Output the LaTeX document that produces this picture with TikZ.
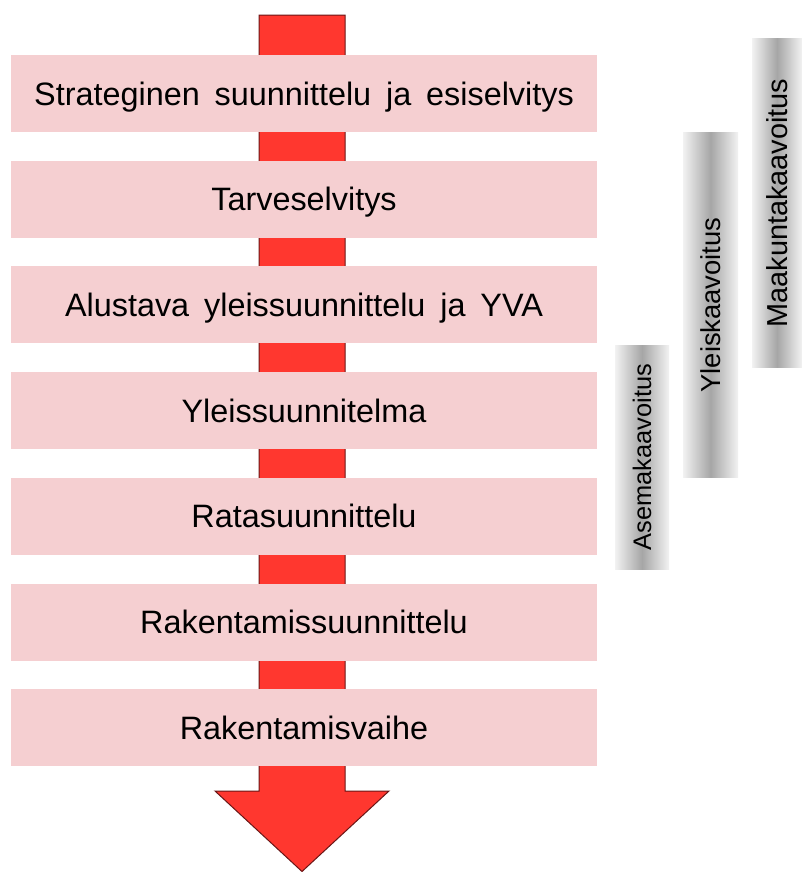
\documentclass[tikz,border=0pt]{standalone}
\usepackage{fontspec}
\setmainfont{Liberation Sans}

\definecolor{phasepink}{RGB}{245,207,209}
\definecolor{arrowred}{RGB}{255,55,47}
\definecolor{arrowedge}{RGB}{105,22,22}
\newcommand{\wgap}{\hspace{0.46em}}

\begin{document}
\begin{tikzpicture}[x=1bp,y=-1bp,
    phase/.style={fill=phasepink,inner sep=0pt,minimum width=586bp,minimum height=77bp,
      text height=23.3bp,text depth=0bp,font=\fontsize{32.5}{38}\selectfont},
    plan/.style={rotate=90,inner sep=0pt,left color=black!5,right color=black!5,
      middle color=black!35}]
    \useasboundingbox (0,0) rectangle (802,872);
    % process arrow
    \draw[fill=arrowred,draw=arrowedge,line width=1bp,line join=miter]
      (259,15) -- (345,15) -- (345,791) -- (389,791) -- (302,871.5)
      -- (215,791) -- (259,791) -- cycle;
    % phases
    \node[phase] (strat) at (304,93.5) {Strateginen\wgap suunnittelu\wgap ja\wgap esiselvitys};
    \node[phase] (tarve) at (304,199.2) {Tarveselvitys};
    \node[phase] (alust) at (304,304.9) {Alustava\wgap yleissuunnittelu\wgap ja\wgap YVA};
    \node[phase] (yleis) at (304,410.6) {Yleissuunnitelma};
    \node[phase] (rata) at (304,516.3) {Ratasuunnittelu};
    \node[phase] (raken) at (304,622) {Rakentamissuunnittelu};
    \node[phase] (vaihe) at (304,727.7) {Rakentamisvaihe};
    % land use planning levels
    \node[plan,minimum width=224bp,minimum height=54bp,font=\fontsize{25.5}{30}\selectfont]
      (asema) at (642,457) {Asemakaavoitus};
    \node[plan,minimum width=345bp,minimum height=55bp,font=\fontsize{27.5}{32}\selectfont]
      (ylkaava) at (710.5,305) {Yleiskaavoitus};
    \node[plan,minimum width=328bp,minimum height=50bp,font=\fontsize{29}{34}\selectfont]
      (maak) at (777,203) {Maakuntakaavoitus};
\end{tikzpicture}
\end{document}
